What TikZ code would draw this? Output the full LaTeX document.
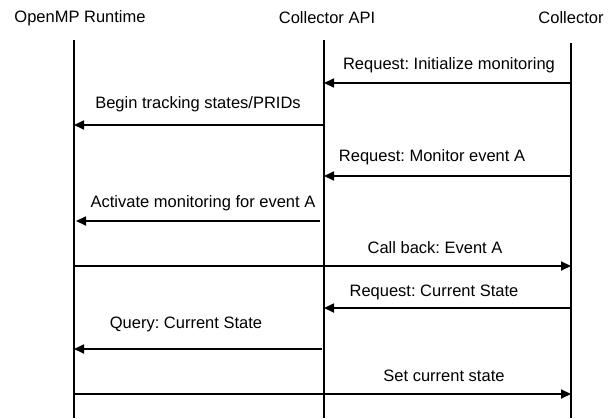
\documentclass[tikz,border=0pt]{standalone}
\usepackage{fontspec}
\setmainfont{Liberation Sans}
\usetikzlibrary{arrows.meta}
\frenchspacing
\begin{document}
\begin{tikzpicture}[x=1pt,y=-1pt,
  lifeline/.style={line width=1.7pt},
  msg/.style={line width=1.7pt,-{Triangle[length=10pt,width=9pt]}},
  head/.style={font=\fontsize{16.5}{18}\selectfont,inner sep=0pt},
  lbl/.style={font=\fontsize{16.5}{18}\selectfont,inner sep=0pt}]
\useasboundingbox (0,0) rectangle (608,418);
% participants
\node[head] (rt)  at (80,18)  {OpenMP Runtime};
\node[head] (api) at (327,18) {Collector API};
\node[head] (col) at (571,18) {Collector};
% lifelines
\coordinate (rtT) at (74,40);   \coordinate (rtB) at (74,418);
\coordinate (apiT) at (324,40); \coordinate (apiB) at (324,418);
\coordinate (colT) at (571,43); \coordinate (colB) at (571,418);
\draw[lifeline] (rtT) -- (rtB);
\draw[lifeline] (apiT) -- (apiB);
\draw[lifeline] (colT) -- (colB);
% message end points
\coordinate (m1a) at (571,83);  \coordinate (m1b) at (324,83);
\coordinate (m2a) at (324,125); \coordinate (m2b) at (74,125);
\coordinate (m3a) at (571,176); \coordinate (m3b) at (324,176);
\coordinate (m4a) at (320,221); \coordinate (m4b) at (76,221);
\coordinate (m5a) at (74,266);  \coordinate (m5b) at (571,266);
\coordinate (m6a) at (571,308); \coordinate (m6b) at (324,308);
\coordinate (m7a) at (322,349); \coordinate (m7b) at (74,349);
\coordinate (m8a) at (74,394);  \coordinate (m8b) at (571,394);
% messages
\draw[msg] (m1a) -- (m1b);
\draw[msg] (m2a) -- (m2b);
\draw[msg] (m3a) -- (m3b);
\draw[msg] (m4a) -- (m4b);
\draw[msg] (m5a) -- (m5b);
\draw[msg] (m6a) -- (m6b);
\draw[msg] (m7a) -- (m7b);
\draw[msg] (m8a) -- (m8b);
% labels
\node[lbl] (l1) at (449,65)  {Request: Initialize monitoring};
\node[lbl] (l2) at (198,104) {Begin tracking states/PRIDs};
\node[lbl] (l3) at (432,157) {Request: Monitor event A};
\node[lbl] (l4) at (203,203) {Activate monitoring for event A};
\node[lbl] (l5) at (435,248) {Call back: Event A};
\node[lbl] (l6) at (434,292) {Request: Current State};
\node[lbl] (l7) at (186,324) {Query: Current State};
\node[lbl] (l8) at (444,376) {Set current state};
\end{tikzpicture}
\end{document}
